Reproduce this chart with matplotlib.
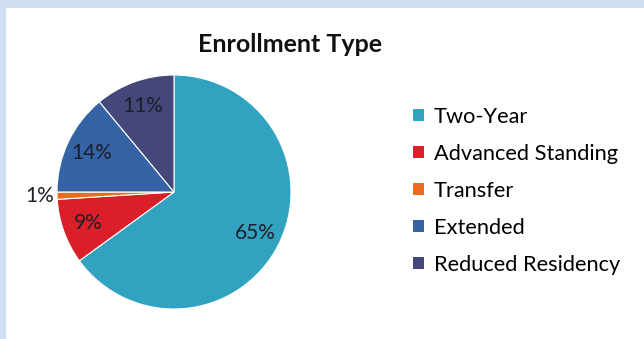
import matplotlib
matplotlib.use("Agg")
import matplotlib.pyplot as plt
from matplotlib.patches import Rectangle, Patch

plt.rcParams['font.family'] = ['Lato', 'DejaVu Sans']

# data
labels = ['Two-Year', 'Advanced Standing', 'Transfer', 'Extended', 'Reduced Residency']
values = [65, 9, 1, 14, 11]
colors = ['#31a3c0', '#da1f29', '#ec6a1f', '#3464a6', '#45477b']

fig = plt.figure(figsize=(6.44, 3.39), dpi=100)
fig.patch.set_facecolor('white')

# light blue frame on top and left
fig.patches.append(Rectangle((0, 1 - 8 / 339), 1, 8 / 339, transform=fig.transFigure,
                             facecolor='#cfe0f2', edgecolor='none', zorder=0))
fig.patches.append(Rectangle((0, 0), 6 / 644, 1, transform=fig.transFigure,
                             facecolor='#cfe0f2', edgecolor='none', zorder=0))

ax = fig.add_axes([27.75 / 644, 0.75 / 339, 292.5 / 644, 292.5 / 339])
wedges, texts, autotexts = ax.pie(values, colors=colors, startangle=90, counterclock=False,
                                  autopct='%d%%', pctdistance=0.78,
                                  wedgeprops=dict(edgecolor='white', linewidth=0.8),
                                  textprops=dict(fontsize=15, color='#1c1f2a'))
ax.set_xlim(-1.25, 1.25)
ax.set_ylim(-1.25, 1.25)
ax.set_aspect('equal')

# small slice label goes outside the pie
x, y = autotexts[2].get_position()
autotexts[2].set_position((x * 1.15 / 0.78, y * 1.15 / 0.78))

fig.text(290 / 644, 1 - 45 / 339, 'Enrollment Type', ha='center', va='center',
         fontsize=18, fontweight='bold', color='#111111')

handles = [Patch(facecolor=c, edgecolor='none') for c in colors]
fig.legend(handles, labels, loc='center left', bbox_to_anchor=(413 / 644, 148 / 339),
           frameon=False, fontsize=15.7, labelspacing=0.78, handlelength=0.5,
           handleheight=0.5, handletextpad=0.45, borderpad=0, borderaxespad=0)

fig.savefig('out.png', dpi=100)
